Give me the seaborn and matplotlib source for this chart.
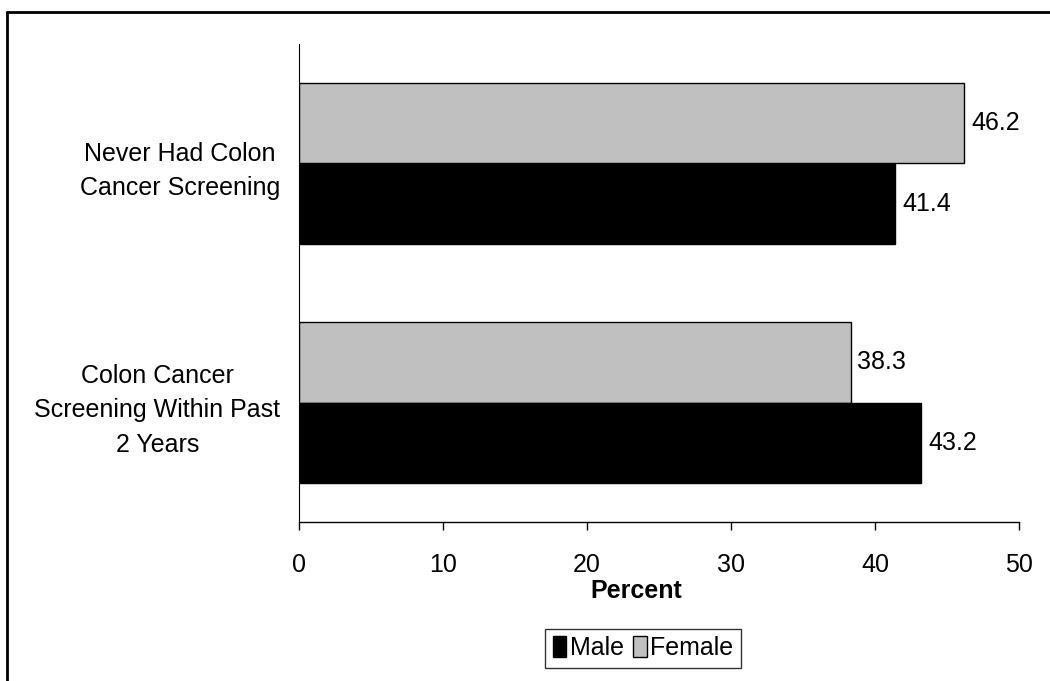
import pandas as pd
import matplotlib.pyplot as plt
import seaborn as sns
from matplotlib.lines import Line2D
from matplotlib.patches import Patch

categories = ["Never Had Colon\nCancer Screening",
              "Colon Cancer\nScreening Within Past\n2 Years"]
female = [46.2, 38.3]
male = [41.4, 43.2]
xticks = [0, 10, 20, 30, 40, 50]

df = pd.DataFrame({
    "category": categories * 2,
    "sex": ["Female"] * 2 + ["Male"] * 2,
    "value": female + male,
})

sns.set_style("white")
plt.rcParams["font.family"] = ["Liberation Sans", "DejaVu Sans"]
for k in ["text.color", "axes.labelcolor", "xtick.color", "ytick.color"]:
    plt.rcParams[k] = "black"
FS = 18

fig = plt.figure(figsize=(10.5, 6.81), dpi=100)
ax = fig.add_axes([299 / 1050, 1 - 522 / 681, 720 / 1050, 478 / 681])

sns.barplot(data=df, y="category", x="value", hue="sex",
            hue_order=["Female", "Male"],
            palette={"Female": "#c0c0c0", "Male": "#000000"},
            edgecolor="black", linewidth=1, width=0.67, orient="h",
            legend=False, ax=ax)

for cont in ax.containers:
    ax.bar_label(cont, fmt="%.1f", padding=5, fontsize=FS)

ax.set_xlim(0, 50)
ax.set_xticks(xticks)
ax.tick_params(axis="x", labelsize=FS, length=6, width=1, pad=16,
               direction="out", bottom=True)
ax.tick_params(axis="y", labelsize=FS, length=0, pad=13.5)
for lbl in ax.get_yticklabels():
    lbl.set_horizontalalignment("right")
    lbl.set_multialignment("center")
    lbl.set_linespacing(1.55)
ax.set_ylabel("")
ax.set_xlabel("Percent", fontsize=FS, fontweight="bold", va="center")
ax.xaxis.set_label_coords((636 - 299) / 720, -(591 - 522) / 478)

for s in ["top", "right"]:
    ax.spines[s].set_visible(False)
ax.spines["left"].set_color("black")
ax.spines["bottom"].set_color("black")
ax.spines["left"].set_linewidth(0.8)
ax.spines["bottom"].set_linewidth(1)

handles = [Patch(facecolor="black", edgecolor="black", label="Male"),
           Patch(facecolor="#c0c0c0", edgecolor="black", label="Female")]
leg = fig.legend(handles=handles, loc="center",
                 bbox_to_anchor=(643 / 1050, 1 - 648 / 681),
                 ncol=2, fontsize=FS, frameon=True, fancybox=False,
                 handlelength=0.55, handleheight=0.9, handletextpad=0.15,
                 columnspacing=0.35, borderpad=0.3, borderaxespad=0)
leg.get_frame().set_edgecolor("black")
leg.get_frame().set_linewidth(1)

# outer frame (only top and left visible in the crop)
fig.add_artist(Line2D([7 / 1050, 7 / 1050], [0, 1 - 12 / 681],
                      color="black", linewidth=2, transform=fig.transFigure))
fig.add_artist(Line2D([7 / 1050, 1], [1 - 12 / 681, 1 - 12 / 681],
                      color="black", linewidth=2, transform=fig.transFigure))

fig.savefig("out.png", dpi=100)
